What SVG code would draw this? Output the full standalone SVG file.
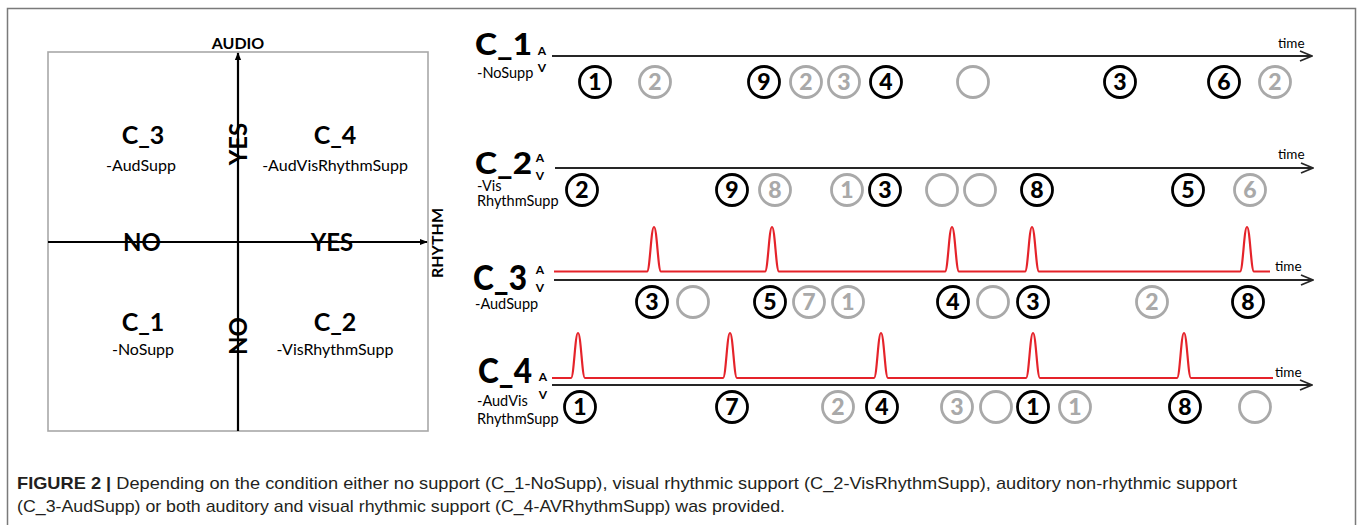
<svg xmlns="http://www.w3.org/2000/svg" width="1358" height="525" viewBox="0 0 1358 525">
  <style>
    .frame{fill:none;stroke:#7a7a7a;stroke-width:1.5}
    .quad{fill:none;stroke:#a8a8a8;stroke-width:1.6}
    .axis{fill:none;stroke:#000;stroke-width:2.2}
    .tl{fill:none;stroke:#262626;stroke-width:2}
    .sig{fill:none;stroke:#e5232a;stroke-width:2.2;stroke-linejoin:round}
    .lbl{font-family:Lato,"Liberation Sans",sans-serif;fill:#000}
    .b{font-weight:bold}
    .big{font-size:25px}
    .sub{font-size:16px}
    .ax{font-size:24px}
    .head{font-weight:900}
    .av{font-size:12px;font-weight:bold}
    .cond{font-size:14.5px}
    .time{font-size:13.5px}
    .cb circle{fill:#fff;stroke:#000;stroke-width:2.8}
    .cg circle{fill:#fff;stroke:#a9a9a9;stroke-width:2.8}
    .cb text,.cg text{font-family:Lato,"Liberation Sans",sans-serif;font-weight:900;font-size:23px;text-anchor:middle}
    .cb text{fill:#000}
    .cg text{fill:#a9a9a9}
    .cap{font-family:"Liberation Sans",Arial,sans-serif;font-size:17px;fill:#231f20}
  </style>
  <defs>
    <marker id="tip" viewBox="0 0 10 10" refX="9" refY="5" markerWidth="8" markerHeight="8" markerUnits="userSpaceOnUse" orient="auto">
      <path d="M0,1 L10,5 L0,9 Z" fill="#000"/>
    </marker>
    <marker id="chev" viewBox="0 0 14 12" refX="13" refY="6" markerWidth="14" markerHeight="12" markerUnits="userSpaceOnUse" orient="auto">
      <path d="M1,1 L13,6 L1,11" fill="none" stroke="#262626" stroke-width="1.8"/>
    </marker>
  </defs>
  <rect width="1358" height="525" fill="#fff"/>
  <!-- figure frame, open at the bottom -->
  <path class="frame" d="M7.5,530 V8.5 H1355.5 V530"/>

  <!-- left panel: 2x2 condition matrix -->
  <g id="matrix">
    <rect class="quad" x="48" y="52" width="380" height="379"/>
    <g id="axes">
      <line class="axis" x1="238" y1="431" x2="238" y2="53" marker-end="url(#tip)"/>
      <line class="axis" x1="48" y1="242" x2="427" y2="242" marker-end="url(#tip)"/>
    </g>
    <text class="lbl b" x="238" y="49" font-size="16" text-anchor="middle">AUDIO</text>
    <text class="lbl b" font-size="16" text-anchor="middle" transform="translate(437,243) rotate(-90)" y="6">RHYTHM</text>
    <text class="lbl b ax" x="142" y="251" text-anchor="middle">NO</text>
    <text class="lbl b ax" x="332" y="251" text-anchor="middle">YES</text>
    <text class="lbl b ax" text-anchor="middle" transform="translate(238,144) rotate(-90)" y="9">YES</text>
    <text class="lbl b ax" text-anchor="middle" transform="translate(238,336) rotate(-90)" y="9">NO</text>
    <g id="q-c3">
      <text class="lbl b big" x="143" y="144" text-anchor="middle">C_3</text>
      <text class="lbl sub" x="141" y="171" text-anchor="middle">-AudSupp</text>
    </g>
    <g id="q-c4">
      <text class="lbl b big" x="335" y="144" text-anchor="middle">C_4</text>
      <text class="lbl sub" x="335" y="171" text-anchor="middle">-AudVisRhythmSupp</text>
    </g>
    <g id="q-c1">
      <text class="lbl b big" x="143" y="331" text-anchor="middle">C_1</text>
      <text class="lbl sub" x="143" y="355" text-anchor="middle">-NoSupp</text>
    </g>
    <g id="q-c2">
      <text class="lbl b big" x="335" y="331" text-anchor="middle">C_2</text>
      <text class="lbl sub" x="335" y="355" text-anchor="middle">-VisRhythmSupp</text>
    </g>
  </g>

  <!-- right panel: timelines per condition -->
  <g id="timelines">
    <!-- C_1: no support -->
    <g id="row-c1">
      <text class="lbl head" x="475" y="55" font-size="31" textLength="57" lengthAdjust="spacingAndGlyphs">C_1</text>
      <text class="lbl av" x="542" y="55" text-anchor="middle">A</text>
      <text class="lbl av" x="542" y="72" text-anchor="middle">V</text>
      <text class="lbl cond" x="477" y="78">-NoSupp</text>
      <line class="tl" x1="552" y1="56" x2="1312" y2="56" marker-end="url(#chev)"/>
      <text class="lbl time" x="1278" y="48">time</text>
      <g class="cb" transform="translate(595,82)"><circle r="15.5"/><text y="8">1</text></g>
      <g class="cg" transform="translate(655,82)"><circle r="15.5"/><text y="8">2</text></g>
      <g class="cb" transform="translate(764,82)"><circle r="15.5"/><text y="8">9</text></g>
      <g class="cg" transform="translate(806,82)"><circle r="15.5"/><text y="8">2</text></g>
      <g class="cg" transform="translate(844,82)"><circle r="15.5"/><text y="8">3</text></g>
      <g class="cb" transform="translate(886,82)"><circle r="15.5"/><text y="8">4</text></g>
      <g class="cg" transform="translate(973,82)"><circle r="15.5"/></g>
      <g class="cb" transform="translate(1120,82)"><circle r="15.5"/><text y="8">3</text></g>
      <g class="cb" transform="translate(1224,82)"><circle r="15.5"/><text y="8">6</text></g>
      <g class="cg" transform="translate(1275,82)"><circle r="15.5"/><text y="8">2</text></g>
    </g>
    <!-- C_2: visual rhythmic support -->
    <g id="row-c2">
      <text class="lbl head" x="475" y="174" font-size="31" textLength="57" lengthAdjust="spacingAndGlyphs">C_2</text>
      <text class="lbl av" x="540" y="162" text-anchor="middle">A</text>
      <text class="lbl av" x="540" y="180" text-anchor="middle">V</text>
      <text class="lbl cond" x="477" y="191">-Vis</text>
      <text class="lbl cond" x="477" y="206">RhythmSupp</text>
      <line class="tl" x1="555" y1="168" x2="1313" y2="168" marker-end="url(#chev)"/>
      <text class="lbl time" x="1278" y="159">time</text>
      <g class="cb" transform="translate(582,190)"><circle r="15.5"/><text y="8">2</text></g>
      <g class="cb" transform="translate(732,190)"><circle r="15.5"/><text y="8">9</text></g>
      <g class="cg" transform="translate(775,190)"><circle r="15.5"/><text y="8">8</text></g>
      <g class="cg" transform="translate(847,190)"><circle r="15.5"/><text y="8">1</text></g>
      <g class="cb" transform="translate(885,190)"><circle r="15.5"/><text y="8">3</text></g>
      <g class="cg" transform="translate(942,190)"><circle r="15.5"/></g>
      <g class="cg" transform="translate(980,190)"><circle r="15.5"/></g>
      <g class="cb" transform="translate(1037,190)"><circle r="15.5"/><text y="8">8</text></g>
      <g class="cb" transform="translate(1188,190)"><circle r="15.5"/><text y="8">5</text></g>
      <g class="cg" transform="translate(1250,190)"><circle r="15.5"/><text y="8">6</text></g>
    </g>
    <!-- C_3: auditory non-rhythmic support -->
    <g id="row-c3">
      <text class="lbl head" x="473" y="290" font-size="35" textLength="54" lengthAdjust="spacingAndGlyphs">C_3</text>
      <text class="lbl av" x="540" y="274" text-anchor="middle">A</text>
      <text class="lbl av" x="540" y="292" text-anchor="middle">V</text>
      <text class="lbl cond" x="475" y="309">-AudSupp</text>
      <path class="sig" d="M554,271.5 H647 C650,271.5 651,227 654,227 C657,227 658,271.5 661,271.5 H765 C768,271.5 769,227 772,227 C775,227 776,271.5 779,271.5 H945 C948,271.5 949,227 952,227 C955,227 956,271.5 959,271.5 H1025 C1028,271.5 1029,227 1032,227 C1035,227 1036,271.5 1039,271.5 H1240 C1243,271.5 1244,227 1247,227 C1250,227 1251,271.5 1254,271.5 H1270"/>
      <line class="tl" x1="554" y1="280" x2="1313" y2="280" marker-end="url(#chev)"/>
      <text class="lbl time" x="1275" y="271">time</text>
      <g class="cb" transform="translate(652,302)"><circle r="15.5"/><text y="8">3</text></g>
      <g class="cg" transform="translate(693,302)"><circle r="15.5"/></g>
      <g class="cb" transform="translate(770,302)"><circle r="15.5"/><text y="8">5</text></g>
      <g class="cg" transform="translate(809,302)"><circle r="15.5"/><text y="8">7</text></g>
      <g class="cg" transform="translate(848,302)"><circle r="15.5"/><text y="8">1</text></g>
      <g class="cb" transform="translate(953,302)"><circle r="15.5"/><text y="8">4</text></g>
      <g class="cg" transform="translate(993,302)"><circle r="15.5"/></g>
      <g class="cb" transform="translate(1033,302)"><circle r="15.5"/><text y="8">3</text></g>
      <g class="cg" transform="translate(1152,302)"><circle r="15.5"/><text y="8">2</text></g>
      <g class="cb" transform="translate(1248,302)"><circle r="15.5"/><text y="8">8</text></g>
    </g>
    <!-- C_4: auditory and visual rhythmic support -->
    <g id="row-c4">
      <text class="lbl head" x="478" y="383" font-size="35" textLength="54" lengthAdjust="spacingAndGlyphs">C_4</text>
      <text class="lbl av" x="543" y="381" text-anchor="middle">A</text>
      <text class="lbl av" x="543" y="399" text-anchor="middle">V</text>
      <text class="lbl cond" x="477" y="406">-AudVis</text>
      <text class="lbl cond" x="477" y="424">RhythmSupp</text>
      <path class="sig" d="M552,378 H571 C574,378 575,333 578,333 C581,333 582,378 585,378 H723 C726,378 727,333 730,333 C733,333 734,378 737,378 H874 C877,378 878,333 881,333 C884,333 885,378 888,378 H1026 C1029,378 1030,333 1033,333 C1036,333 1037,378 1040,378 H1177 C1180,378 1181,333 1184,333 C1187,333 1188,378 1191,378 H1273"/>
      <line class="tl" x1="552" y1="385" x2="1312" y2="385" marker-end="url(#chev)"/>
      <text class="lbl time" x="1275" y="377">time</text>
      <g class="cb" transform="translate(580,407)"><circle r="15.5"/><text y="8">1</text></g>
      <g class="cb" transform="translate(732,407)"><circle r="15.5"/><text y="8">7</text></g>
      <g class="cg" transform="translate(838,407)"><circle r="15.5"/><text y="8">2</text></g>
      <g class="cb" transform="translate(882,407)"><circle r="15.5"/><text y="8">4</text></g>
      <g class="cg" transform="translate(957,407)"><circle r="15.5"/><text y="8">3</text></g>
      <g class="cg" transform="translate(996,407)"><circle r="15.5"/></g>
      <g class="cb" transform="translate(1033,407)"><circle r="15.5"/><text y="8">1</text></g>
      <g class="cg" transform="translate(1075,407)"><circle r="15.5"/><text y="8">1</text></g>
      <g class="cb" transform="translate(1185,407)"><circle r="15.5"/><text y="8">8</text></g>
      <g class="cg" transform="translate(1255,407)"><circle r="15.5"/></g>
    </g>
  </g>

  <!-- caption -->
  <g id="caption">
    <text class="cap" x="17" y="489" textLength="1220" lengthAdjust="spacingAndGlyphs"><tspan font-weight="bold">FIGURE 2 |</tspan> Depending on the condition either no support (C_1-NoSupp), visual rhythmic support (C_2-VisRhythmSupp), auditory non-rhythmic support</text>
    <text class="cap" x="17" y="512" textLength="768" lengthAdjust="spacingAndGlyphs">(C_3-AudSupp) or both auditory and visual rhythmic support (C_4-AVRhythmSupp) was provided.</text>
  </g>
</svg>
